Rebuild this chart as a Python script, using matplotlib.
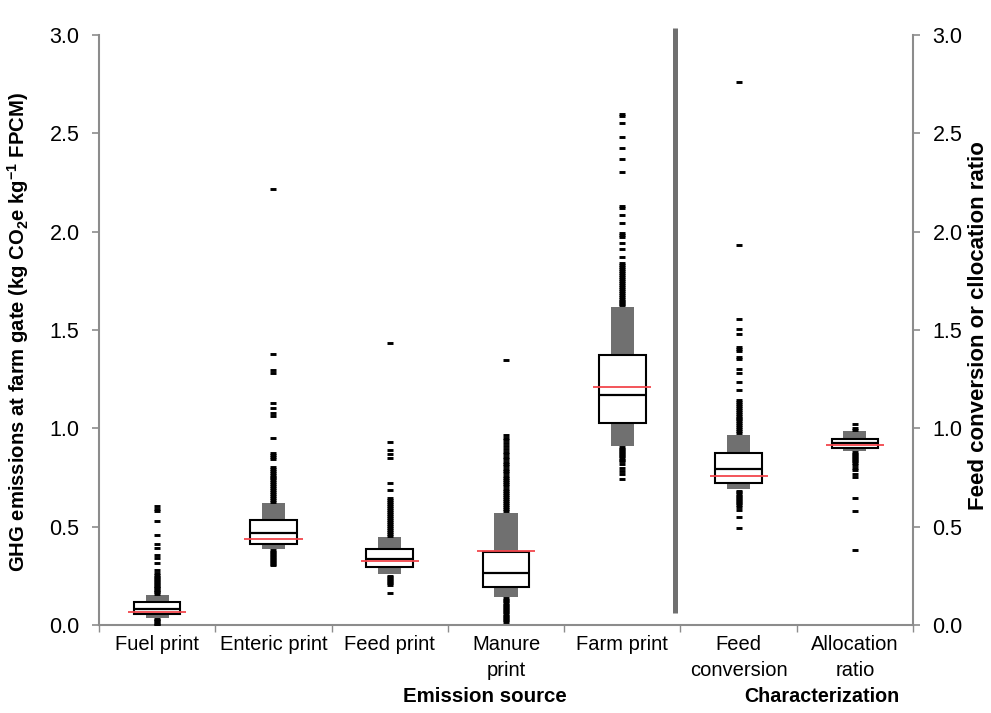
import matplotlib
matplotlib.use("Agg")
import matplotlib.pyplot as plt
from matplotlib.patches import Rectangle

plt.rcParams['font.family'] = ['Liberation Sans', 'DejaVu Sans']
plt.rcParams['mathtext.fontset'] = 'custom'
plt.rcParams['mathtext.rm'] = 'Liberation Sans:bold'
plt.rcParams['mathtext.default'] = 'rm'

categories = ["Fuel print", "Enteric print", "Feed print", "Manure\nprint",
              "Farm print", "Feed\nconversion", "Allocation\nratio"]

# distribution summaries per category
p_low  = [0.037, 0.386, 0.258, 0.144, 0.912, 0.690, 0.886]
q1     = [0.056, 0.413, 0.293, 0.195, 1.025, 0.722, 0.901]
median = [0.081, 0.468, 0.337, 0.266, 1.171, 0.793, 0.925]
q3     = [0.117, 0.534, 0.388, 0.370, 1.373, 0.876, 0.947]
p_high = [0.153, 0.620, 0.449, 0.569, 1.618, 0.966, 0.986]
mean   = [0.068, 0.439, 0.327, 0.376, 1.208, 0.759, 0.915]

fuel_out = [0.605, 0.590, 0.578, 0.527, 0.458, 0.412, 0.390, 0.356, 0.340, 0.317,
            0.280, 0.266, 0.254, 0.245, 0.238, 0.230, 0.222, 0.215, 0.208, 0.200,
            0.193, 0.186, 0.180, 0.173, 0.166, 0.160,
            0.032, 0.025, 0.018, 0.012, 0.006, 0.001]
enteric_out = [2.217, 1.376, 1.296, 1.283, 1.127, 1.103, 1.079, 1.063, 0.952, 0.874,
               0.862, 0.852, 0.844, 0.805, 0.795, 0.785, 0.775, 0.765, 0.755, 0.745,
               0.735, 0.725, 0.715, 0.705, 0.695, 0.685, 0.675, 0.665, 0.655, 0.645,
               0.635, 0.627,
               0.380, 0.372, 0.365, 0.357, 0.350, 0.342, 0.335, 0.327, 0.320, 0.312, 0.305]
feed_out = [1.435, 0.932, 0.890, 0.870, 0.850, 0.720, 0.686, 0.645, 0.635, 0.625,
            0.615, 0.605, 0.595, 0.585, 0.575, 0.565, 0.555, 0.545, 0.535, 0.525,
            0.515, 0.505, 0.495, 0.485, 0.475, 0.465, 0.455,
            0.250, 0.242, 0.235, 0.227, 0.220, 0.212, 0.205, 0.164]
manure_out = [1.347, 0.966, 0.952, 0.940, 0.925, 0.910, 0.895, 0.880, 0.868, 0.855,
              0.843, 0.830, 0.818, 0.806, 0.795, 0.783, 0.772, 0.760, 0.749, 0.738,
              0.727, 0.716, 0.705, 0.694, 0.683, 0.672, 0.661, 0.650, 0.640, 0.630,
              0.620, 0.610, 0.600, 0.590, 0.580,
              0.136, 0.128, 0.120, 0.112, 0.104, 0.096, 0.088, 0.080, 0.072, 0.064,
              0.056, 0.048, 0.040, 0.032, 0.024, 0.017]
farm_out = [2.600, 2.590, 2.553, 2.483, 2.425, 2.369, 2.303, 2.130, 2.120, 2.084,
            2.045, 1.995, 1.985, 1.975, 1.940, 1.910, 1.870, 1.840, 1.830, 1.820,
            1.810, 1.800, 1.790, 1.780, 1.770, 1.760, 1.750, 1.740, 1.730, 1.720,
            1.710, 1.700, 1.690, 1.680, 1.670, 1.660, 1.650, 1.640, 1.630, 1.625,
            0.905, 0.897, 0.889, 0.881, 0.873, 0.865, 0.857, 0.849, 0.841, 0.833,
            0.820, 0.800, 0.785, 0.770, 0.740]
fcr_out = [2.762, 1.932, 1.556, 1.506, 1.479, 1.413, 1.403, 1.393, 1.364, 1.352,
           1.303, 1.283, 1.237, 1.195, 1.144, 1.135, 1.125, 1.115, 1.105, 1.095,
           1.085, 1.075, 1.065, 1.055, 1.045, 1.035, 1.025, 1.015, 1.005, 0.995,
           0.985, 0.975,
           0.682, 0.674, 0.666, 0.658, 0.650, 0.642, 0.634, 0.626, 0.618, 0.610,
           0.600, 0.585, 0.547, 0.492]
alloc_out = [1.020, 1.000, 0.990,
             0.880, 0.872, 0.864, 0.856, 0.848, 0.840, 0.832, 0.824, 0.812, 0.800,
             0.790, 0.770, 0.752, 0.647, 0.581, 0.381]
outliers = [fuel_out, enteric_out, feed_out, manure_out, farm_out, fcr_out, alloc_out]

y_ticks = [0.0, 0.5, 1.0, 1.5, 2.0, 2.5, 3.0]

GRAY = '#707070'
SPINE = '#8c8c8c'
RED = '#f2464c'

fig = plt.figure(figsize=(9.91, 7.13), dpi=100)
ax = fig.add_axes([99 / 991, 88 / 713, 814 / 991, 590 / 713])
ax.set_xlim(-0.5, len(categories) - 0.5)
ax.set_ylim(0, 3.0)

for i in range(len(categories)):
    ax.add_patch(Rectangle((i - 0.1, p_low[i]), 0.2, p_high[i] - p_low[i],
                           facecolor=GRAY, edgecolor='none', zorder=2))
    ax.add_patch(Rectangle((i - 0.2, q1[i]), 0.4, q3[i] - q1[i],
                           facecolor='white', edgecolor='black', lw=1.5, zorder=3))
    ax.plot([i - 0.2, i + 0.2], [median[i], median[i]], color='black', lw=1.6,
            zorder=4, solid_capstyle='butt')
    ax.plot([i - 0.25, i + 0.25], [mean[i], mean[i]], color=RED, lw=1.3,
            zorder=5, solid_capstyle='butt')
    ax.plot([i] * len(outliers[i]), outliers[i], linestyle='none', marker='_',
            markersize=4.4, markeredgewidth=2.1, color='black', zorder=4)

# separator between emission sources and characterization ratios
ax.plot([4.453, 4.453], [0.063, 3.035], color=GRAY, lw=3.6, zorder=1,
        clip_on=False, solid_capstyle='butt')

for side in ['top', 'right']:
    ax.spines[side].set_visible(False)
for side in ['left', 'bottom']:
    ax.spines[side].set_color(SPINE)
    ax.spines[side].set_linewidth(1.5)

ax.set_yticks(y_ticks)
ax.set_yticklabels([f"{v:.1f}" for v in y_ticks], fontsize=15.5)
ax.tick_params(axis='y', direction='out', length=5, width=1.2, color=SPINE, pad=9)

ax.set_xticks(range(len(categories)))
ax.set_xticklabels(categories, fontsize=14.5, linespacing=1.5)
ax.tick_params(axis='x', length=0, pad=7)
ax.set_xticks([k + 0.5 for k in range(-1, len(categories))], minor=True)
ax.tick_params(axis='x', which='minor', direction='out', length=5, width=1.0, color=SPINE)

ax2 = ax.twinx()
ax2.set_ylim(0, 3.0)
for side in ['top', 'left', 'bottom']:
    ax2.spines[side].set_visible(False)
ax2.spines['right'].set_color(SPINE)
ax2.spines['right'].set_linewidth(1.5)
ax2.set_yticks(y_ticks)
ax2.set_yticklabels([f"{v:.1f}" for v in y_ticks], fontsize=15.5)
ax2.tick_params(axis='y', direction='out', length=5, width=1.2, color=SPINE, pad=9)

fig.text(18 / 991, 1 - 332 / 713,
         r"GHG emissions at farm gate (kg CO$_{2}$e kg$^{-1}$ FPCM)",
         rotation=90, ha='center', va='center', fontsize=14.6, fontweight='bold')
fig.text(979 / 991, 1 - 326 / 713, "Feed conversion or cllocation ratio",
         rotation=90, ha='center', va='center', fontsize=16, fontweight='bold')
fig.text(485 / 991, 1 - 697 / 713, "Emission source", ha='center', va='center',
         fontsize=14.8, fontweight='bold')
fig.text(822 / 991, 1 - 697 / 713, "Characterization", ha='center', va='center',
         fontsize=14.2, fontweight='bold')

fig.savefig("out.png", dpi=100)
